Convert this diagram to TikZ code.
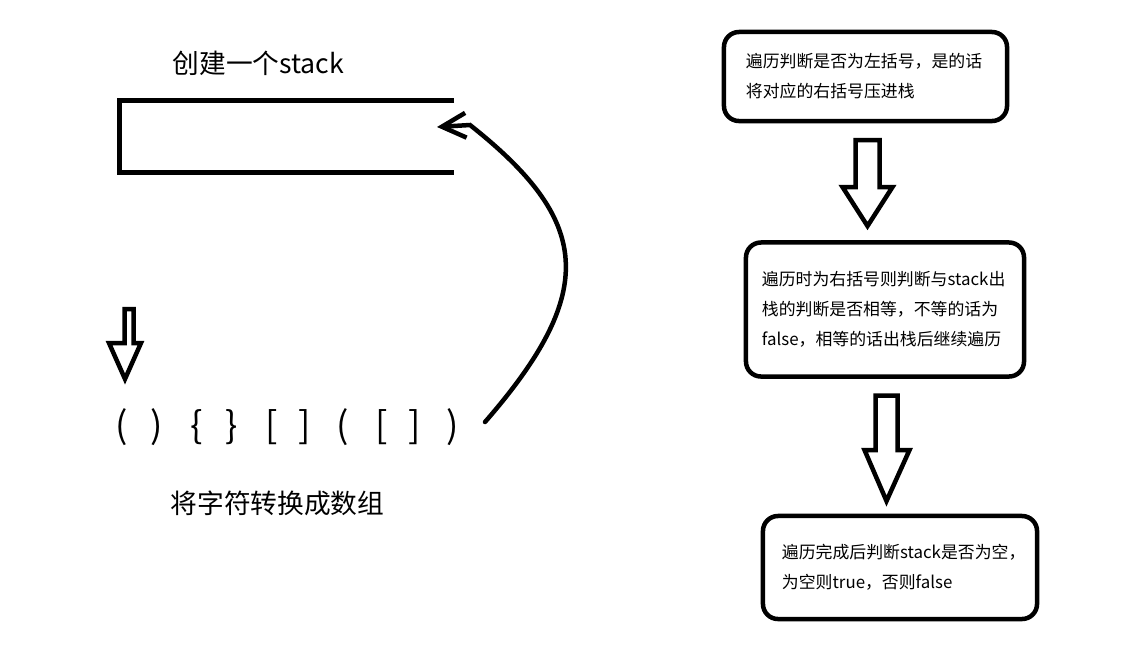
\documentclass[tikz,border=0pt]{standalone}
\usepackage{fontspec}
\setmainfont{Noto Sans CJK SC}
\usetikzlibrary{arrows.meta}
\tikzset{
	thickline/.style={draw=black, line width=3.2pt, line join=miter},
	stepbox/.style={draw=black, line width=3.2pt, rounded corners=0.375cm, align=left, inner sep=0pt, font=\fontsize{12pt}{21.3pt}\selectfont},
	bigtext/.style={inner sep=0pt, font=\fontsize{19pt}{22pt}\selectfont},
	bracket/.style={inner sep=0pt, font=\fontsize{26pt}{28pt}\selectfont}
}
\begin{document}
\begin{tikzpicture}[x=0.025cm, y=-0.025cm]
	\useasboundingbox[fill=white] (0,0) rectangle (1137,667);
	% left part: stack and array
	\node[bigtext] (title) at (258.5,63.5) {创建一个stack};
	\draw[draw=black, line width=3.56pt] (454,100.5) -- (119.5,100.5) -- (119.5,172.5) -- (454,172.5);
	\coordinate (stackin) at (437,127);
	\coordinate (bend) at (470,125);
	\draw[thickline] (124.5,309) -- (124.5,343) -- (109,343) -- (125,379) -- (141,343) -- (133.5,343) -- (133.5,309) -- cycle;
	\foreach \x/\c [count=\i] in {122/{(}, 157/{)}, 197/{\{}, 232/{\}}, 272/{[}, 305/{]}, 343/{(}, 382/{[}, 415/{]}, 453/{)}}
		\node[bracket] (p\i) at (\x,427) {\c};
	\coordinate (arrstart) at (485,422);
	\draw[thickline, line cap=round, -{Straight Barb[length=0.6cm, width=0.62cm]}] (arrstart) .. controls (600,290) and (590,220) .. (bend) -- (stackin);
	\node[bigtext] (convert) at (277.5,503) {将字符转换成数组};
	% right part: steps
	\node[stepbox, minimum width=7.075cm, minimum height=2.225cm, text width=5.975cm] (push) at (865.5,76.5) {遍历判断是否为左括号，是的话\\将对应的右括号压进栈};
	\node[stepbox, minimum width=6.95cm, minimum height=3.35cm, text width=6.15cm] (pop) at (885,309.5) {遍历时为右括号则判断与stack出\\栈的判断是否相等，不等的话为\\false，相等的话出栈后继续遍历};
	\node[stepbox, minimum width=6.85cm, minimum height=2.575cm, text width=5.9cm] (empty) at (900,567.5) {遍历完成后判断stack是否为空，\\为空则true，否则false};
	\draw[thickline] (855.5,140) -- (855.5,187) -- (842.5,187) -- (867.5,226) -- (892.5,187) -- (879.5,187) -- (879.5,140) -- cycle;
	\draw[thickline] (875.5,395.5) -- (875.5,450) -- (864.5,450) -- (886.5,501) -- (909.5,450) -- (897.5,450) -- (897.5,395.5) -- cycle;
\end{tikzpicture}
\end{document}
